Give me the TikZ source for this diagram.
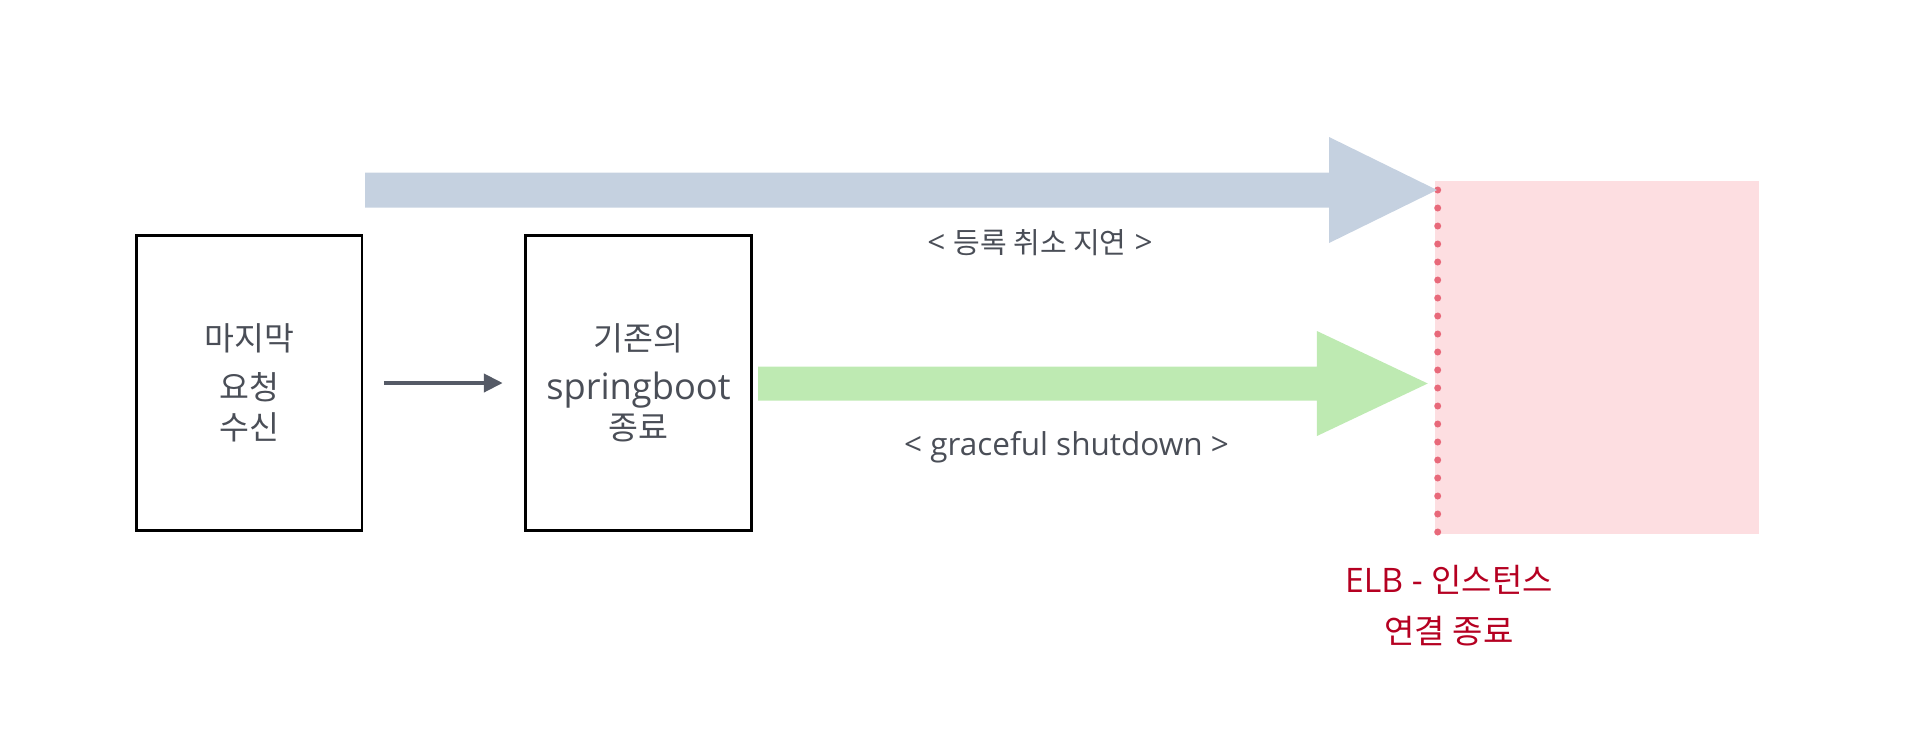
\documentclass[tikz,border=0pt]{standalone}
\usepackage{fontspec}
\newfontfamily\krfont{Noto Sans CJK KR}
\newfontfamily\latinfont{Open Sans}
\newcommand{\kr}[2]{{\krfont\fontsize{#1}{#1}\selectfont #2}}
\usetikzlibrary{arrows.meta,positioning,shapes.arrows}
\definecolor{textgray}{HTML}{4A4E57}
\definecolor{linkgray}{HTML}{555A66}
\definecolor{arrowblue}{HTML}{C5D1E0}
\definecolor{arrowgreen}{HTML}{BEEAB2}
\definecolor{elbpink}{HTML}{FDDEE1}
\definecolor{dotred}{HTML}{E8697A}
\definecolor{elbred}{HTML}{B50021}
\tikzset{
  stagebox/.style={rectangle,draw,line width=1.08pt,minimum width=90.2pt,minimum height=118pt,
    align=center,text=textgray,font=\krfont\fontsize{13}{16}\selectfont},
  bigarrow/.style={single arrow,inner xsep=0pt,outer sep=0pt,single arrow head extend=14.2pt,
    single arrow head indent=0pt,anchor=tail},
  note/.style={text=textgray,font=\latinfont\fontsize{12.6}{15}\selectfont},
  link/.style={-{Triangle[length=7.5pt,width=7.3pt]},line width=1.3pt,draw=linkgray}
}
\begin{document}
\begin{tikzpicture}[x=0.4pt,y=-0.4pt]
      \useasboundingbox (0,0) rectangle (1922,742);
      \node[stagebox](recv) at (249.25,383){마지막\\[3.6pt]요청\\수신};
      \node[stagebox,right=64.4pt of recv](stop){기존의\\[3.6pt]{\latinfont\fontsize{14.5}{16}\selectfont springboot}\\종료};
      \draw[link] ([xshift=8.2pt]recv.east) -- ([xshift=-8.7pt]stop.west);
      \node[rectangle,fill=elbpink,inner sep=0pt,outer sep=0pt,minimum width=129.6pt,minimum height=141.1pt,anchor=north west](elb) at (1435,181){};
      \draw[dotred,line width=2.8pt,line cap=round,dash pattern=on 0pt off 7.2pt] ([shift={(1.08pt,-3.6pt)}]elb.north west) -- ([shift={(1.08pt,0.68pt)}]elb.south west);
      \node[bigarrow,fill=arrowblue,inner ysep=6.8pt,single arrow tip angle=52.3,minimum height=428.8pt](delay) at (365,190){};
      \node[bigarrow,fill=arrowgreen,inner ysep=6.6pt,single arrow tip angle=50.7,minimum height=267.9pt](graceful) at (758,383.5){};
      \node[note](delaytext) at (1040,242.5){< \kr{11.6}{등록 취소 지연} >};
      \node[note](gracefultext) at (1066.5,447){< graceful shutdown >};
      \node[text=elbred,align=center,font=\latinfont\fontsize{13.5}{20.4}\selectfont](elbtext) at (1449,606){ELB - \kr{13.2}{인스턴스}\\\kr{13.2}{연결 종료}};
    \end{tikzpicture}
\end{document}
